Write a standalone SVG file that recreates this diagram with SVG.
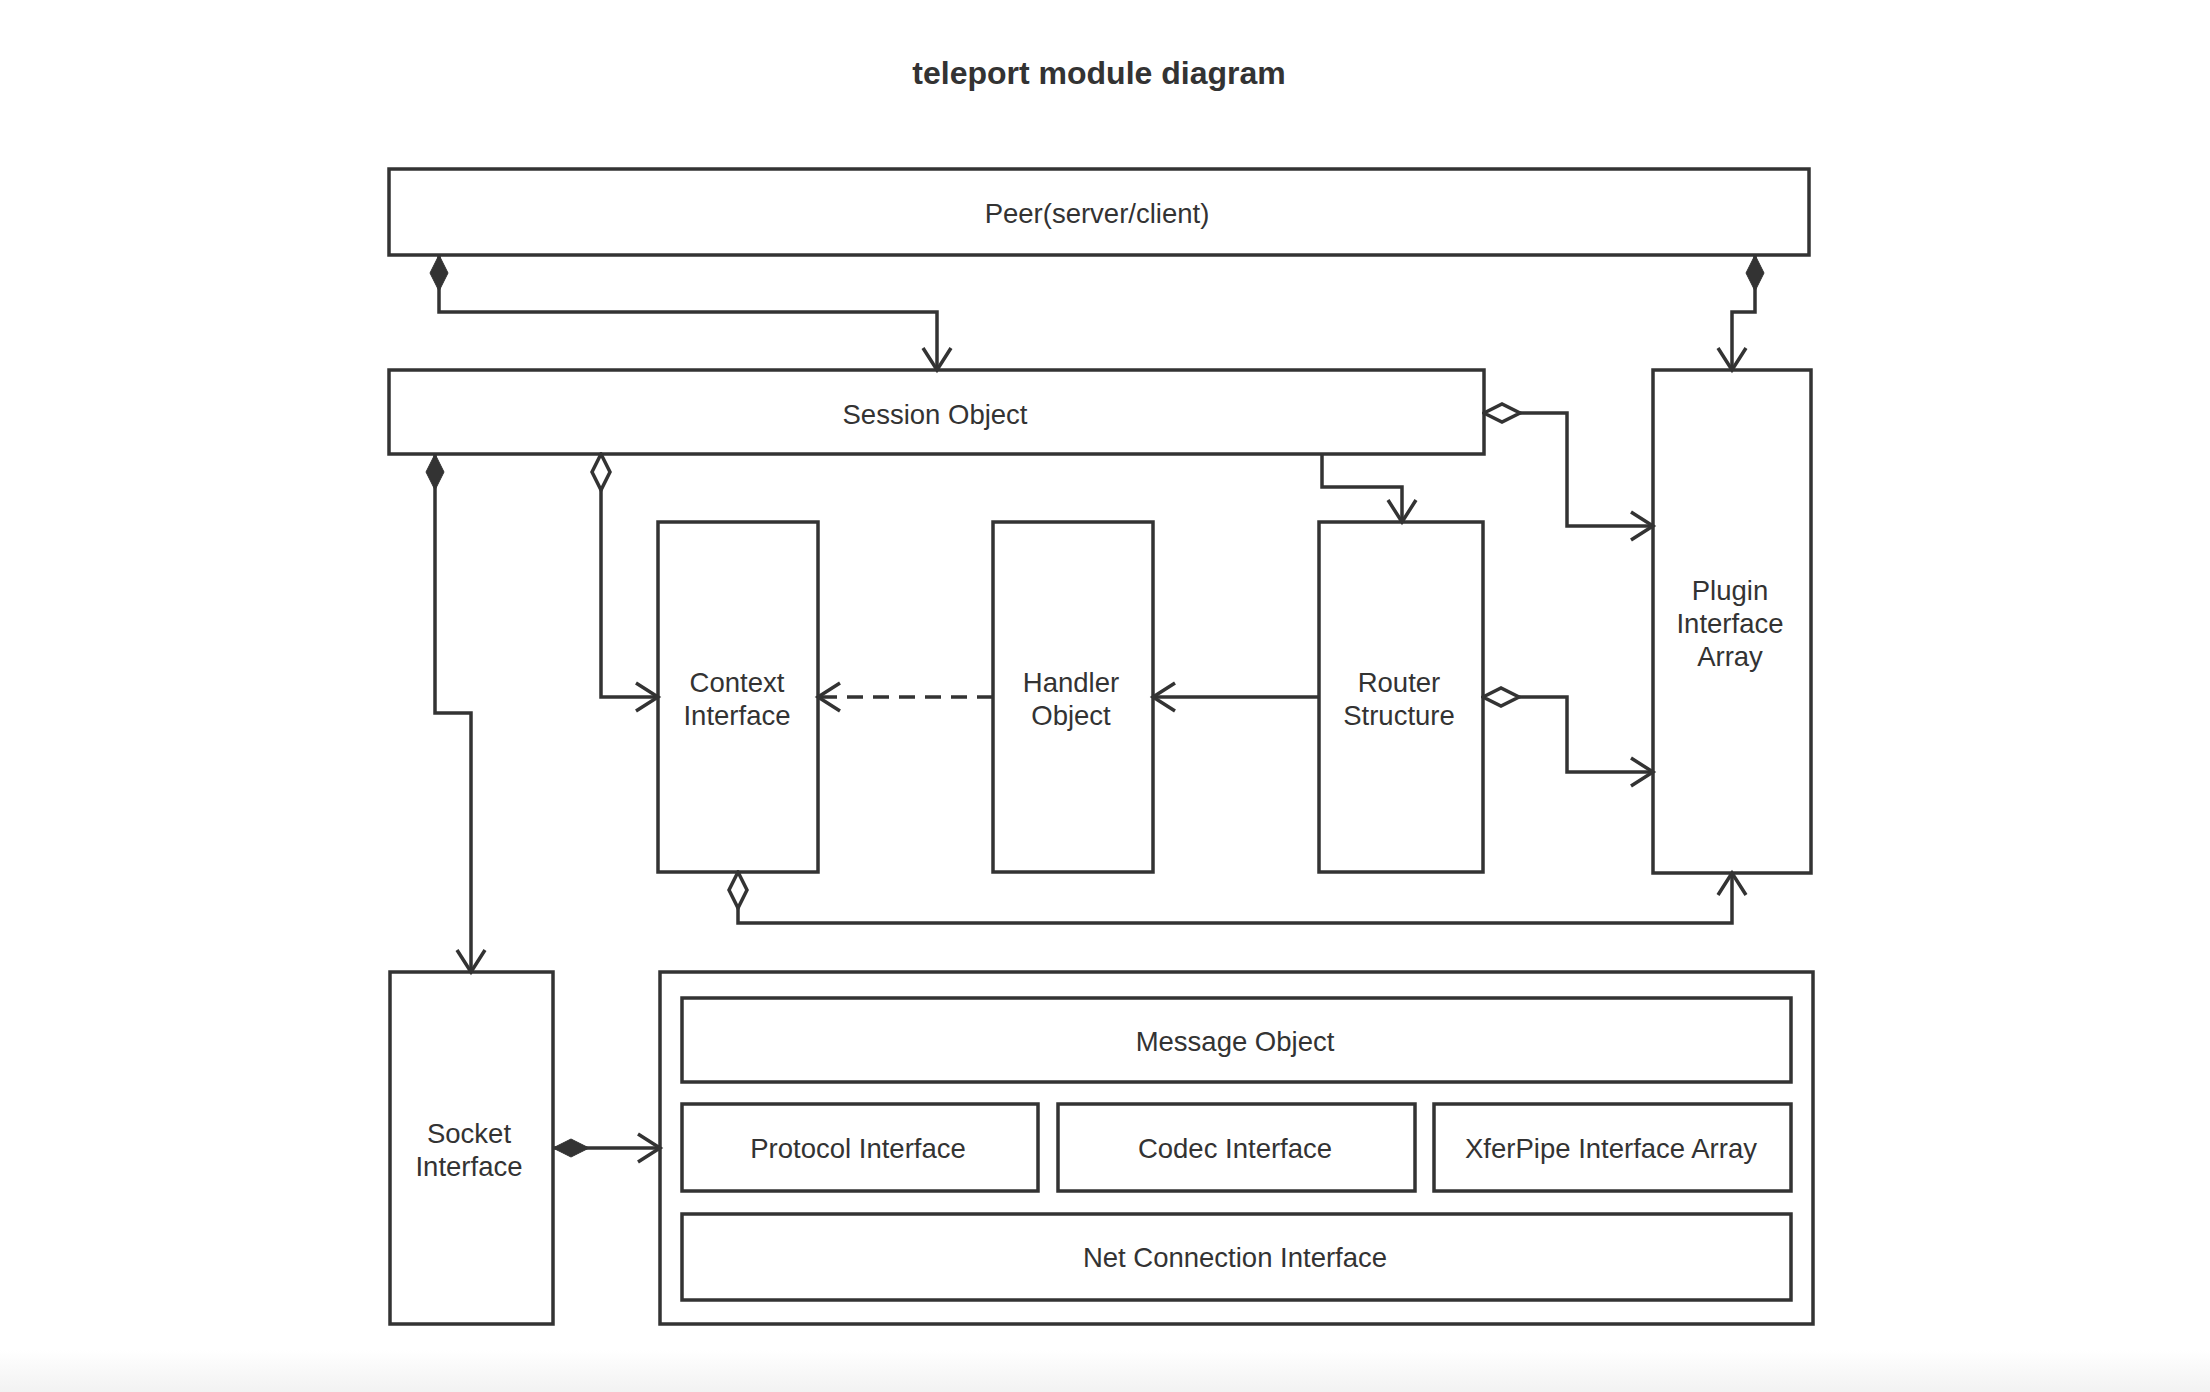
<svg xmlns="http://www.w3.org/2000/svg" width="2210" height="1392" viewBox="0 0 2210 1392">
<defs>
<style>
.n{fill:#fff;stroke:#333;stroke-width:3.5}
.t{font-family:"Liberation Sans",Arial,sans-serif;font-size:27.5px;fill:#333;text-anchor:middle;dominant-baseline:central}
.c{fill:none;stroke:#333;stroke-width:3.5}
.d{stroke-dasharray:16 10}
</style>
<linearGradient id="bg" x1="0" y1="0" x2="0" y2="1">
<stop offset="0" stop-color="#fff"/>
<stop offset="1" stop-color="#f2f2f2"/>
</linearGradient>
<marker id="arr" markerUnits="userSpaceOnUse" markerWidth="30" markerHeight="34" viewBox="-26 -17 30 34" refX="0" refY="0" orient="auto">
<path d="M-22,-14 L0,0 L-22,14" fill="none" stroke="#333" stroke-width="3.5"/>
</marker>
<marker id="fd" markerUnits="userSpaceOnUse" markerWidth="40" markerHeight="24" viewBox="-1 -12 40 24" refX="0" refY="0" orient="auto">
<path d="M0,0 L18,-9 L36,0 L18,9 Z" fill="#333" stroke="#333" stroke-width="1"/>
</marker>
<marker id="od" markerUnits="userSpaceOnUse" markerWidth="42" markerHeight="26" viewBox="-2 -13 42 26" refX="0" refY="0" orient="auto">
<path d="M0,0 L18,-9 L36,0 L18,9 Z" fill="#fff" stroke="#333" stroke-width="3.5"/>
</marker>
</defs>
<rect x="0" y="0" width="2210" height="1392" fill="#fff"/>
<rect x="0" y="1350" width="2210" height="42" fill="url(#bg)"/>
<text x="1099" y="73" class="t" style="font-size:32px;font-weight:bold">teleport module diagram</text>

<g id="peer"><rect class="n" x="389" y="169" width="1420" height="86"/><text class="t" x="1097" y="213">Peer(server/client)</text></g>
<g id="session"><rect class="n" x="389" y="370" width="1095" height="84"/><text class="t" x="935" y="414">Session Object</text></g>
<g id="context"><rect class="n" x="658" y="522" width="160" height="350"/><text class="t" x="737" y="682">Context</text><text class="t" x="737" y="715">Interface</text></g>
<g id="handler"><rect class="n" x="993" y="522" width="160" height="350"/><text class="t" x="1071" y="682">Handler</text><text class="t" x="1071" y="715">Object</text></g>
<g id="router"><rect class="n" x="1319" y="522" width="164" height="350"/><text class="t" x="1399" y="682">Router</text><text class="t" x="1399" y="715">Structure</text></g>
<g id="plugin"><rect class="n" x="1653" y="370" width="158" height="503"/><text class="t" x="1730" y="590">Plugin</text><text class="t" x="1730" y="623">Interface</text><text class="t" x="1730" y="656">Array</text></g>
<g id="socket"><rect class="n" x="390" y="972" width="163" height="352"/><text class="t" x="469" y="1133">Socket</text><text class="t" x="469" y="1166">Interface</text></g>
<g id="container"><rect class="n" x="660" y="972" width="1153" height="352"/>
<g id="message"><rect class="n" x="682" y="998" width="1109" height="84"/><text class="t" x="1235" y="1041">Message Object</text></g>
<g id="protocol"><rect class="n" x="682" y="1104" width="356" height="87"/><text class="t" x="858" y="1148">Protocol Interface</text></g>
<g id="codec"><rect class="n" x="1058" y="1104" width="357" height="87"/><text class="t" x="1235" y="1148">Codec Interface</text></g>
<g id="xferpipe"><rect class="n" x="1434" y="1104" width="357" height="87"/><text class="t" x="1611" y="1148">XferPipe Interface Array</text></g>
<g id="netconn"><rect class="n" x="682" y="1214" width="1109" height="86"/><text class="t" x="1235" y="1257">Net Connection Interface</text></g>
</g>

<g id="connectors">
<path class="c" d="M439,255 V312 H937 V370" marker-start="url(#fd)" marker-end="url(#arr)"/>
<path class="c" d="M1755,255 V312 H1732 V370" marker-start="url(#fd)" marker-end="url(#arr)"/>
<path class="c" d="M435,454 V713 H471 V972" marker-start="url(#fd)" marker-end="url(#arr)"/>
<path class="c" d="M601,454 V697 H658" marker-start="url(#od)" marker-end="url(#arr)"/>
<path class="c" d="M1322,454 V487 H1402 V522" marker-end="url(#arr)"/>
<path class="c" d="M1484,413 H1567 V526 H1653" marker-start="url(#od)" marker-end="url(#arr)"/>
<path class="c d" d="M993,697 H818" marker-end="url(#arr)"/>
<path class="c" d="M1319,697 H1153" marker-end="url(#arr)"/>
<path class="c" d="M1483,697 H1567 V772 H1653" marker-start="url(#od)" marker-end="url(#arr)"/>
<path class="c" d="M738,872 V923 H1732 V873" marker-start="url(#od)" marker-end="url(#arr)"/>
<path class="c" d="M553,1148 H660" marker-start="url(#fd)" marker-end="url(#arr)"/>
</g>
</svg>
